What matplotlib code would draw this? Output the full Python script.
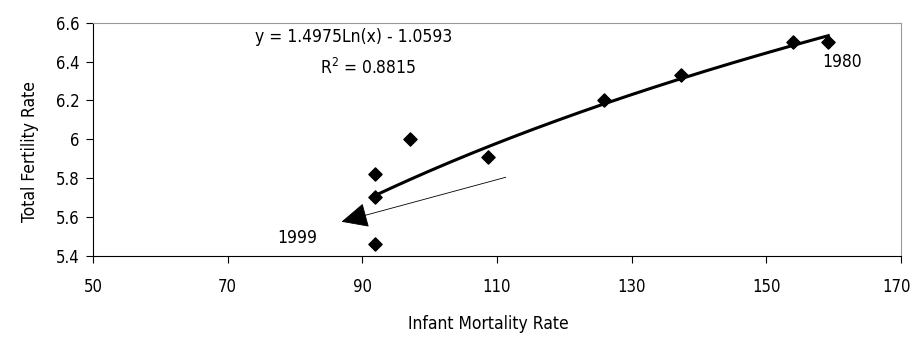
import numpy as np
import matplotlib
matplotlib.use("Agg")
import matplotlib.pyplot as plt
from matplotlib.transforms import ScaledTranslation

# infant mortality vs total fertility, 1980 .. 1999
imr = [159.2, 153.9, 137.3, 125.9, 108.6, 97.0, 91.9, 91.9, 91.9]
tfr = [6.50, 6.50, 6.33, 6.20, 5.91, 6.00, 5.82, 5.70, 5.46]

# log trend from the chart
coef_a = 1.4975
coef_b = -1.0593
eq_text = "y = 1.4975Ln(x) - 1.0593"
r2_text = "R$^2$ = 0.8815"

xticks = [50, 70, 90, 110, 130, 150, 170]
yticks = [5.4, 5.6, 5.8, 6.0, 6.2, 6.4, 6.6]
ytick_labels = ["5.4", "5.6", "5.8", "6", "6.2", "6.4", "6.6"]

plt.rcParams['font.family'] = ['DejaVu Sans']
plt.rcParams['font.stretch'] = 'condensed'
plt.rcParams['mathtext.fontset'] = 'custom'
plt.rcParams['mathtext.rm'] = 'DejaVu Sans:stretch=condensed'
plt.rcParams['font.size'] = 12.5

fig = plt.figure(figsize=(9.14, 3.37), dpi=100)
ax = fig.add_axes([0.1018, 0.2412, 0.8840, 0.6914])

ax.scatter(imr, tfr, marker="D", s=45, c="black", zorder=3)

xs = np.linspace(min(imr), max(imr), 200)
ax.plot(xs, coef_a * np.log(xs) + coef_b, c="black", linewidth=2.2, zorder=2)

ax.annotate("", xy=(86.9, 5.575), xytext=(111.3, 5.804),
            arrowprops=dict(arrowstyle="-|>,head_length=1.7,head_width=0.8",
                            mutation_scale=10, color="black", lw=0.6,
                            shrinkA=0, shrinkB=0))

ax.text(80.3, 5.49, "1999", ha="center", va="center")
ax.text(161.3, 6.40, "1980", ha="center", va="center")
ax.text(88.7, 6.528, eq_text, ha="center", va="center")
ax.text(90.9, 6.368, r2_text, ha="center", va="center")

ax.set_xlim(50, 170)
ax.set_ylim(5.4, 6.6)
ax.set_xticks(xticks)
ax.set_yticks(yticks)
ax.set_yticklabels(ytick_labels)
ax.tick_params(direction="out", length=5, width=0.8, color="black", labelsize=12)
ax.tick_params(axis="x", pad=11)
ax.tick_params(axis="y", pad=5)

# keep "170" inside the figure edge
last = ax.get_xticklabels()[-1]
last.set_transform(last.get_transform() + ScaledTranslation(-4 / 100, 0, fig.dpi_scale_trans))

for s in ["left", "bottom"]:
    ax.spines[s].set_color("black")
    ax.spines[s].set_linewidth(0.8)
for s in ["top", "right"]:
    ax.spines[s].set_color("#999999")
    ax.spines[s].set_linewidth(0.8)

ax.set_xlabel("Infant Mortality Rate", labelpad=14, x=0.489)
ax.set_ylabel("Total Fertility Rate", labelpad=12, y=0.449)

fig.savefig("out.png", dpi=100)
